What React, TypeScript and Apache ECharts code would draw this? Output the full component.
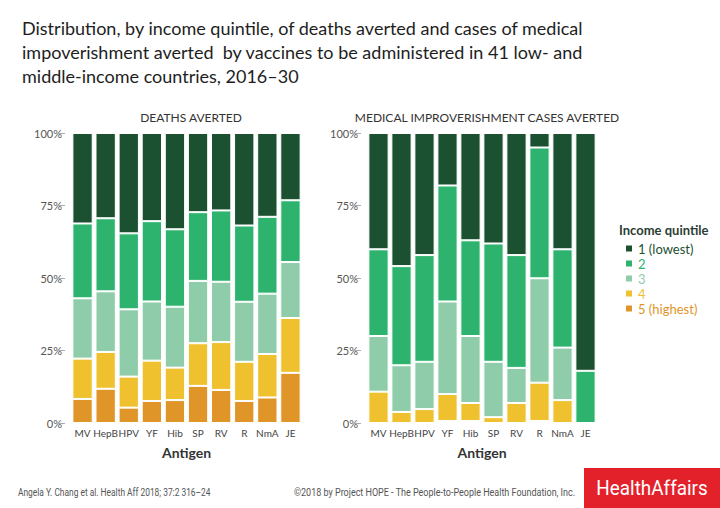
import React, { useEffect, useRef } from 'react';
import * as echarts from 'echarts';

// 疫苗名称（横轴类目）
const antigens = ['MV', 'HepB', 'HPV', 'YF', 'Hib', 'SP', 'RV', 'R', 'NmA', 'JE'];

// 收入五分位名称与配色
const quintiles = ['1 (lowest)', '2', '3', '4', '5 (highest)'];
const colors = ['#1b5030', '#2eb36f', '#8fcca9', '#efc12f', '#df9528'];

// 左图：避免的死亡（%）
const deathsQ1 = [31.2, 29.4, 34.6, 30.4, 33.2, 27.3, 26.7, 31.9, 28.9, 23.2];
const deathsQ2 = [25.8, 25.2, 26.2, 27.7, 26.7, 23.7, 24.6, 26.3, 26.5, 21.3];
const deathsQ3 = [20.8, 20.9, 23.2, 20.4, 21.0, 21.5, 20.8, 20.7, 20.8, 19.3];
const deathsQ4 = [13.9, 12.7, 10.7, 13.9, 11.2, 14.7, 16.5, 13.5, 15.0, 18.9];
const deathsQ5 = [8.3, 11.8, 5.3, 7.6, 7.9, 12.8, 11.4, 7.6, 8.8, 17.3];

// 右图：避免的医疗致贫案例（%）
const povertyQ1 = [40.1, 45.9, 42.1, 18.1, 37.0, 38.1, 42.1, 5.0, 40.1, 82.0];
const povertyQ2 = [29.9, 34.2, 36.8, 40.0, 33.0, 40.8, 38.9, 45.1, 33.9, 18.0];
const povertyQ3 = [19.2, 16.1, 16.3, 31.9, 23.1, 19.1, 12.1, 36.0, 18.1, 0];
const povertyQ4 = [10.8, 3.8, 4.8, 9.3, 6.2, 2.0, 6.9, 13.2, 7.9, 0];
const povertyQ5 = [0, 0, 0, 0.7, 0.7, 0, 0, 0.7, 0, 0];

const yTicks = [0, 25, 50, 75, 100];

const deaths = [deathsQ1, deathsQ2, deathsQ3, deathsQ4, deathsQ5];
const poverty = [povertyQ1, povertyQ2, povertyQ3, povertyQ4, povertyQ5];

const makeXAxis = (gridIndex: number) => ({
  type: 'category',
  gridIndex,
  data: antigens,
  axisLine: { show: false },
  axisTick: { show: false },
  axisLabel: { interval: 0, margin: 5, fontSize: 10, color: '#444', fontFamily: 'Lato' },
  name: 'Antigen',
  nameLocation: 'middle',
  nameGap: 22,
  nameTextStyle: { fontSize: 14, color: '#333', fontFamily: 'Lato', fontWeight: 'bold' }
});

const makeYAxis = (gridIndex: number) => ({
  type: 'value',
  gridIndex,
  min: yTicks[0],
  max: yTicks[yTicks.length - 1],
  interval: 25,
  offset: 6,
  axisLine: { show: false },
  axisTick: { show: true, length: 6, lineStyle: { color: '#aaa' } },
  splitLine: { show: false },
  axisLabel: { margin: 3, fontSize: 11, color: '#555', fontFamily: 'Lato', formatter: '{value}%' }
});

const makeSeries = (values: number[][], gridIndex: number) =>
  // 从第5档开始堆叠，使其位于底部
  [4, 3, 2, 1, 0].map(i => ({
    name: quintiles[i],
    type: 'bar',
    stack: 'g' + gridIndex,
    xAxisIndex: gridIndex,
    yAxisIndex: gridIndex,
    barCategoryGap: '12%',
    data: values[i],
    itemStyle: { color: colors[i], borderColor: '#fff', borderWidth: 1 }
  }));

const App: React.FC = () => {
  const chartRef = useRef<HTMLDivElement>(null);

  useEffect(() => {
    if (!chartRef.current) return;
    const chart = echarts.init(chartRef.current, undefined, { renderer: 'svg' });

    const option: any = {
      animation: false,
      backgroundColor: '#fff',
      title: [
        {
          text:
            'Distribution, by income quintile, of deaths averted and cases of medical\n' +
            'impoverishment averted  by vaccines to be administered in 41 low- and\n' +
            'middle-income countries, 2016–30',
          left: 17,
          top: 11,
          textStyle: { fontSize: 18, fontWeight: 'normal', color: '#1e1e1e', fontFamily: 'Lato', lineHeight: 24 }
        },
        {
          text: 'DEATHS AVERTED',
          left: 186,
          top: 106,
          textAlign: 'center',
          textStyle: { fontSize: 12, fontWeight: 'normal', color: '#333', fontFamily: 'Lato' }
        },
        {
          text: 'MEDICAL IMPROVERISHMENT CASES AVERTED',
          left: 482,
          top: 106,
          textAlign: 'center',
          textStyle: { fontSize: 12, fontWeight: 'normal', color: '#333', fontFamily: 'Lato' }
        }
      ],
      legend: {
        orient: 'vertical',
        left: 619,
        top: 237,
        icon: 'rect',
        itemWidth: 8,
        itemHeight: 8,
        itemGap: 2,
        selectedMode: false,
        data: quintiles.map((q, i) => ({ name: q, textStyle: { color: colors[i] } })),
        textStyle: { fontSize: 13, fontFamily: 'Lato', lineHeight: 13 }
      },
      grid: [
        { left: 71, right: 418, top: 133, bottom: 85 },
        { left: 367, right: 123, top: 133, bottom: 85 }
      ],
      xAxis: [makeXAxis(0), makeXAxis(1)],
      yAxis: [makeYAxis(0), makeYAxis(1)],
      series: [...makeSeries(deaths, 0), ...makeSeries(poverty, 1)],
      graphic: [
        {
          type: 'text',
          left: 619,
          top: 223,
          style: { text: 'Income quintile', fontSize: 13, fontFamily: 'Lato', fontWeight: 'bold', fill: '#2b3d33' }
        },
        {
          type: 'text',
          x: 18,
          y: 492,
          scaleX: 0.84,
          style: {
            text: 'Angela Y. Chang et al. Health Aff 2018; 37:2 316–24',
            fontSize: 10,
            fontFamily: 'Roboto',
            fill: '#555',
            verticalAlign: 'middle'
          }
        },
        {
          type: 'text',
          x: 294,
          y: 492,
          scaleX: 0.9,
          style: {
            text: '©2018 by Project HOPE - The People-to-People Health Foundation, Inc.',
            fontSize: 10,
            fontFamily: 'Roboto',
            fill: '#555',
            verticalAlign: 'middle'
          }
        },
        {
          type: 'rect',
          shape: { x: 584, y: 468, width: 136, height: 40 },
          style: { fill: '#e3212b' }
        },
        {
          type: 'text',
          x: 652,
          y: 488,
          scaleX: 0.9,
          style: {
            text: 'HealthAffairs',
            fontSize: 21,
            fontFamily: 'Roboto',
            fill: '#fff',
            align: 'center',
            verticalAlign: 'middle'
          }
        }
      ]
    };

    chart.setOption(option);
    return () => {
      chart.dispose();
    };
  }, []);

  return (
    <div
      ref={chartRef}
      style={{ position: 'absolute', left: 0, top: 0, width: 720, height: 508, background: '#fff' }}
    />
  );
};

export default App;
